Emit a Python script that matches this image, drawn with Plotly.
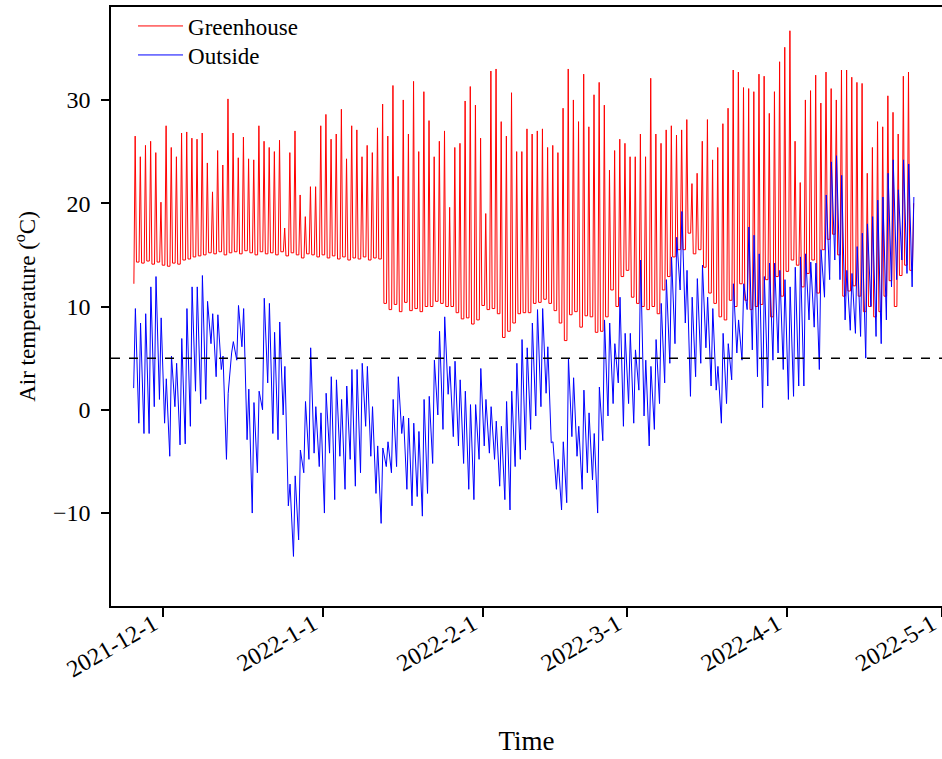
import pandas as pd
import plotly.graph_objects as go

# ---------------- data ----------------
START_DATE = "2021-11-25"   # first day with records

# Greenhouse daily maximum (deg C)
GH_HIGH = [
    26.5, 24.5, 25.6, 26.0, 24.9, 20.1, 27.5, 25.4, 24.5, 26.8,
    26.9, 26.3, 26.2, 26.8, 23.9, 21.1, 25.1, 23.7, 30.1, 26.8,
    24.4, 26.4, 24.3, 24.2, 27.5, 26.0, 25.4, 25.0, 26.1, 17.6,
    24.9, 27.0, 20.8, 18.7, 21.6, 21.6, 27.5, 28.6, 26.2, 26.7,
    29.1, 24.3, 27.5, 27.1, 24.5, 25.6, 24.9, 27.3, 29.6, 26.5,
    31.4, 22.6, 30.0, 26.7, 31.8, 25.0, 30.8, 28.0, 24.5, 26.0,
    27.0, 19.6, 25.4, 25.8, 29.9, 31.3, 29.5, 26.3, 19.0, 32.8,
    33.0, 27.9, 26.5, 30.7, 25.0, 25.0, 27.2, 26.7, 27.0, 27.2,
    25.4, 25.6, 24.9, 29.2, 33.0, 30.0, 27.9, 32.5, 27.4, 30.5,
    31.7, 29.5, 23.2, 25.1, 26.2, 25.8, 24.5, 24.5, 26.7, 24.5,
    32.1, 26.7, 25.8, 27.1, 27.5, 26.6, 27.1, 28.1, 21.9, 22.9,
    26.0, 28.1, 24.2, 25.4, 27.7, 29.2, 32.9, 32.7, 31.2, 31.1,
    30.8, 32.5, 32.3, 28.7, 30.8, 33.7, 35.1, 36.7, 26.0, 22.0,
    30.0, 30.9, 32.4, 29.7, 32.7, 31.1, 30.0, 32.9, 32.9, 32.2,
    31.7, 31.6, 22.9, 25.4, 27.9, 27.4, 30.4, 28.8, 26.7, 32.3,
    32.7, 20.0,
]

# Greenhouse daily minimum (deg C)
GH_LOW = [
    12.2, 14.3, 14.2, 14.4, 14.1, 14.3, 14.0, 13.9, 14.2, 14.1,
    14.5, 14.6, 14.8, 14.9, 15.0, 15.2, 15.1, 15.3, 15.0, 15.2,
    15.3, 15.1, 15.4, 15.2, 15.0, 15.3, 15.1, 15.2, 15.0, 15.3,
    14.9, 15.2, 15.0, 14.7, 15.1, 15.0, 14.8, 15.0, 14.7, 14.9,
    14.6, 14.8, 14.5, 14.7, 14.6, 14.8, 14.5, 14.7, 14.6, 10.3,
    9.7, 10.2, 9.5, 10.4, 9.6, 9.8, 9.5, 10.0, 10.0, 10.5,
    10.3, 10.0, 10.0, 9.4, 8.8, 8.9, 8.3, 8.7, 10.1, 9.7,
    9.8, 9.3, 7.0, 7.6, 8.4, 9.3, 9.4, 9.4, 10.3, 10.4,
    10.7, 10.3, 9.6, 8.4, 6.7, 9.2, 9.5, 8.0, 9.1, 9.0,
    7.5, 7.6, 9.0, 11.6, 10.0, 12.9, 13.5, 10.9, 10.3, 10.0,
    9.7, 10.0, 9.3, 11.6, 12.9, 14.8, 15.5, 15.5, 17.1, 15.1,
    15.5, 13.8, 11.3, 10.3, 9.0, 8.7, 10.6, 10.0, 12.2, 10.6,
    9.7, 10.0, 10.2, 12.6, 9.0, 12.9, 11.0, 13.4, 14.5, 14.0,
    11.9, 13.2, 14.5, 11.3, 15.5, 16.5, 17.0, 15.0, 11.0, 11.5,
    12.0, 11.0, 9.5, 10.0, 9.0, 9.5, 11.0, 12.5, 10.0, 13.0,
    14.0, 13.5,
]

# Outside daily maximum (deg C)
OUT_HIGH = [
    9.8, 8.4, 9.3, 11.9, 12.9, 8.9, 3.0, 5.2, 4.5, 6.9,
    9.8, 11.9, 11.9, 13.0, 10.5, 9.3, 9.2, 5.2, 1.6, 6.6,
    10.1, 9.8, 2.0, 0.7, 1.8, 10.8, 10.3, 7.5, 8.5, 4.2,
    -7.2, -6.4, -3.9, 0.8, 6.0, 0.3, -0.3, 1.6, 3.2, 2.9,
    1.0, 2.3, 3.9, 3.9, 4.5, 4.2, 0.3, -3.5, -3.7, -3.1,
    1.0, 3.2, -0.6, -0.8, -1.3, -2.1, 1.0, 1.3, 4.8, 7.6,
    9.0, 4.2, 4.7, 2.9, 1.8, 0.5, 0.5, 4.0, 1.0, 0.3,
    -1.1, -1.6, 0.8, 1.8, 4.5, 6.8, 6.0, 8.4, 9.7, 9.8,
    6.1, -3.1, -4.8, -3.1, 5.0, 3.1, -1.6, 1.9, -0.3, -2.3,
    2.2, 8.7, 8.4, 6.4, 10.9, 7.4, 7.4, 5.8, 14.5, 4.8,
    4.2, 6.8, 10.3, 12.6, 14.8, 16.7, 19.2, 13.5, 10.9, 12.7,
    14.0, 10.9, 9.8, 4.2, 7.4, 6.4, 12.2, 8.7, 12.2, 17.7,
    16.9, 15.1, 12.9, 14.2, 14.2, 13.5, 12.6, 11.9, 13.8, 14.8,
    15.1, 14.3, 14.2, 15.5, 20.8, 24.0, 24.6, 22.7, 13.5, 13.2,
    15.8, 17.1, 18.0, 18.7, 20.3, 20.6, 22.9, 24.2, 21.3, 24.2,
    23.8, 20.6,
]

# Outside daily minimum (deg C)
OUT_LOW = [
    2.1, -1.3, -2.3, -2.3, 0.3, 1.0, -1.3, -4.5, 0.3, -3.4,
    -3.3, -1.6, 1.8, 0.6, 1.0, 6.4, 3.2, 3.9, -4.8, 5.5,
    4.8, 6.1, -2.9, -10.0, -6.1, 0.0, 2.6, -2.3, -2.9, -0.5,
    -9.3, -14.2, -12.6, -6.1, -4.8, -4.2, -5.5, -10.0, -4.2, -8.7,
    -4.5, -7.7, -4.8, -7.4, -6.1, -1.6, -4.5, -8.1, -11.0, -5.5,
    -6.1, -5.5, -2.3, -7.7, -9.3, -8.4, -10.3, -8.1, -5.2, -0.5,
    -1.9, 1.5, -2.6, -3.5, -5.2, -7.7, -8.7, -4.8, -3.5, -4.2,
    -4.8, -7.4, -8.7, -9.7, -5.5, -4.8, -3.9, -1.9, -0.6, 0.3,
    1.6, -3.2, -7.7, -9.7, -9.0, -2.6, -4.5, -7.7, -6.1, -6.8,
    -10.0, -3.0, -0.6, 0.6, 2.6, -1.6, 0.6, -1.3, 1.9, -0.6,
    -3.5, -1.9, 0.6, 2.6, 4.5, 6.4, 11.6, 8.4, 1.3, 3.2,
    4.5, 6.0, 2.3, 1.9, -1.3, 0.6, 2.9, 5.5, 4.8, 9.7,
    5.8, 3.2, 0.2, 2.3, 4.8, 5.5, 3.9, 1.0, 1.3, 2.3,
    2.3, 8.7, 8.0, 3.9, 10.9, 12.6, 14.5, 12.6, 8.7, 7.7,
    7.4, 7.1, 5.0, 10.0, 7.1, 6.4, 8.7, 11.9, 12.6, 14.5,
    13.2, 11.9,
]

THRESHOLD = 5  # reference line (deg C)

TICK_DATES = ["2021-12-01", "2022-01-01", "2022-02-01",
              "2022-03-01", "2022-04-01", "2022-05-01"]
TICK_LABELS = ["2021-12-1", "2022-1-1", "2022-2-1",
               "2022-3-1", "2022-4-1", "2022-5-1"]
Y_TICKS = [-10, 0, 10, 20, 30]
X_RANGE = ["2021-11-20 20:30", "2022-05-01 01:00"]
Y_RANGE = [-19, 39]

# ---------------- build series ----------------
days = pd.date_range(START_DATE, periods=len(GH_HIGH), freq="D")
h = pd.Timedelta(hours=1)

gh_x, gh_y = [], []
for i, d in enumerate(days):
    gh_x.append(d + 7 * h); gh_y.append(GH_LOW[i])
    gh_x.append(d + 13 * h); gh_y.append(GH_HIGH[i])
    if i + 1 < len(days):
        gh_x.append(d + 19 * h); gh_y.append(GH_LOW[i + 1])

out_x, out_y = [], []
for i, d in enumerate(days):
    out_x.append(d + 6 * h); out_y.append(OUT_LOW[i])
    out_x.append(d + 14 * h); out_y.append(OUT_HIGH[i])

FONT = "Liberation Serif, Times New Roman, serif"

fig = go.Figure()
fig.add_trace(go.Scatter(x=gh_x, y=gh_y, mode="lines", name="Greenhouse",
                         line=dict(color="#ff0000", width=1),
                         legend="legend"))
fig.add_trace(go.Scatter(x=out_x, y=out_y, mode="lines", name="Outside",
                         line=dict(color="#0000ff", width=1),
                         legend="legend2"))
fig.add_hline(y=THRESHOLD, line=dict(color="black", width=1.5, dash="dash"))

legend_common = dict(x=0.0265, xanchor="left", yanchor="middle",
                     yref="container", bgcolor="rgba(0,0,0,0)",
                     itemwidth=45,
                     font=dict(size=23, family=FONT))

fig.update_layout(
    width=942, height=759,
    margin=dict(l=111, r=0, t=7, b=153, autoexpand=False),
    paper_bgcolor="white", plot_bgcolor="white",
    font=dict(family=FONT, color="black", size=23),
    showlegend=True,
    legend=dict(y=1 - 26 / 759, **legend_common),
    legend2=dict(y=1 - 55 / 759, **legend_common),
)
fig.update_xaxes(
    type="date", range=X_RANGE, automargin=False,
    tickvals=TICK_DATES, ticktext=TICK_LABELS, tickangle=-30,
    ticklabeloverflow="allow",
    showline=True, linecolor="black", linewidth=1.5, mirror=True,
    ticks="outside", ticklen=9, tickwidth=1.5, tickcolor="black",
    showgrid=False, zeroline=False, ticklabelstandoff=-16,
    ticklabelshift=-10,
    tickfont=dict(size=24, family=FONT),
    title=dict(text="Time", font=dict(size=27, family=FONT), standoff=50),
)
fig.update_yaxes(
    range=Y_RANGE, tickvals=Y_TICKS, automargin=False,
    showline=True, linecolor="black", linewidth=1.5, mirror=False,
    ticks="outside", ticklen=8, tickwidth=1.5, tickcolor="black",
    showgrid=False, zeroline=False, ticklabelstandoff=6,
    tickfont=dict(size=24, family=FONT),
    title=dict(text="Air temperature (<sup>o</sup>C)",
               font=dict(size=23, family=FONT), standoff=11),
)

fig.write_html("out.html")
